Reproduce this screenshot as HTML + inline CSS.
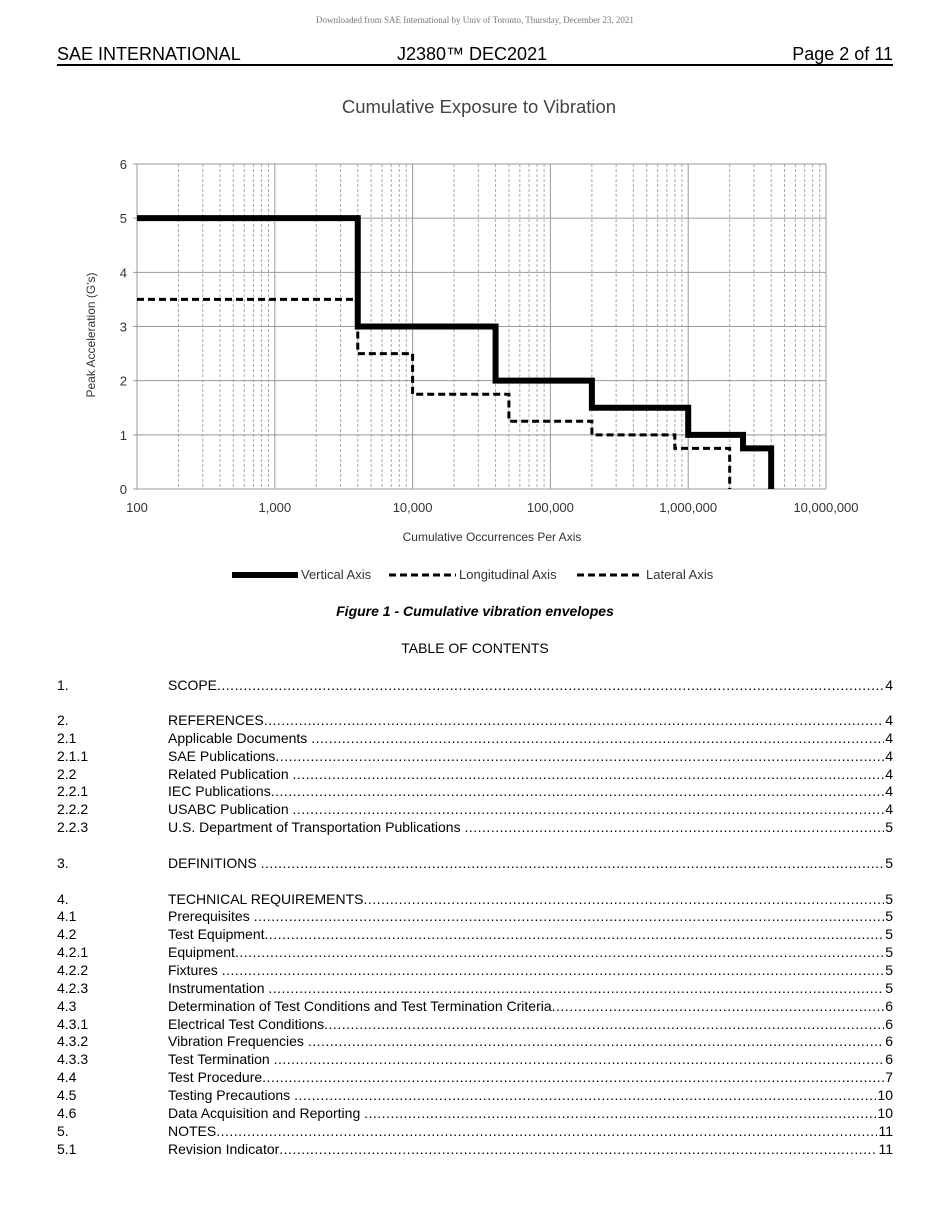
<!DOCTYPE html>
<html><head><meta charset="utf-8"><style>
body{margin:0;background:#fff;width:950px;height:1230px;position:relative;font-family:"Liberation Sans",Arial,sans-serif;overflow:hidden}
.a{position:absolute;white-space:nowrap}
.row{position:absolute;left:57px;width:836px;height:18px;font-size:14px;line-height:18px;color:#000;white-space:nowrap}
.row .n{position:absolute;left:0}
.row .t{position:absolute;left:111px;right:0;overflow:hidden;white-space:nowrap}
.row .t span.d{letter-spacing:0.5px}
.row .p{position:absolute;right:0;background:#fff;padding-left:1px}
</style></head><body>
<div class="a" style="left:0;width:950px;text-align:center;top:15px;font-family:'Liberation Serif',serif;font-size:9px;color:#777">Downloaded from SAE International by Univ of Toronto, Thursday, December 23, 2021</div>
<div class="a" style="left:57px;top:44px;font-size:18px">SAE INTERNATIONAL</div>
<div class="a" style="left:397px;top:44px;font-size:18px">J2380™ DEC2021</div>
<div class="a" style="right:57px;top:44px;font-size:18px">Page 2 of 11</div>
<div class="a" style="left:57px;top:64px;width:836px;height:1.5px;background:#000"></div>
<svg id="ch" class="a" style="left:0;top:0" width="950" height="600"></svg>
<div class="a" style="left:0;width:950px;text-align:center;top:603px;font-size:14px;font-weight:bold;font-style:italic">Figure 1 - Cumulative vibration envelopes</div>
<div class="a" style="left:0;width:950px;text-align:center;top:640px;font-size:14px">TABLE OF CONTENTS</div>
<div id="toc"></div>
<script>
var s='',L=137,R=826,T=164,B=489,D=137.8,U=(B-T)/6;
function X(v){return L+Math.log10(v/100)*D}
function Y(v){return B-v*U}
for(var d=0;d<5;d++)for(var k=2;k<10;k++){var x=X(100*Math.pow(10,d)*k);s+='<line x1="'+x+'" y1="'+T+'" x2="'+x+'" y2="'+B+'" stroke="#aaa" stroke-width="1" stroke-dasharray="3,2"/>';}
for(var d=0;d<=5;d++){var x=X(100*Math.pow(10,d));s+='<line x1="'+x+'" y1="'+T+'" x2="'+x+'" y2="'+B+'" stroke="#999" stroke-width="1"/>';}
for(var i=0;i<=6;i++){var y=Y(i);s+='<line x1="'+(L-4)+'" y1="'+y+'" x2="'+R+'" y2="'+y+'" stroke="#999" stroke-width="1"/><text x="'+(L-10)+'" y="'+(y+5)+'" font-size="13" text-anchor="end" fill="#333" font-family="Liberation Sans">'+i+'</text>';}
var xl=['100','1,000','10,000','100,000','1,000,000','10,000,000'];
for(var d=0;d<=5;d++)s+='<text x="'+X(100*Math.pow(10,d))+'" y="512" font-size="13" text-anchor="middle" fill="#333" font-family="Liberation Sans">'+xl[d]+'</text>';
function path(pts){var p='M'+X(pts[0][0])+' '+Y(pts[0][1]);for(var i=1;i<pts.length;i++){p+=' L'+X(pts[i][0])+' '+Y(pts[i-1][1])+' L'+X(pts[i][0])+' '+Y(pts[i][1]);}return p;}
var lat=[[100,3.5],[4000,2.5],[10000,1.75],[50000,1.25],[200000,1],[800000,0.75],[2000000,0]];
s+='<path d="'+path(lat)+'" fill="none" stroke="#000" stroke-width="3" stroke-dasharray="7,4"/>';
var ver=[[100,5],[4000,3],[40000,2],[200000,1.5],[1000000,1],[2500000,0.75],[4000000,0]];
s+='<path d="'+path(ver)+'" fill="none" stroke="#000" stroke-width="6"/>';
s+='<text x="479" y="113" font-size="18.5" text-anchor="middle" fill="#444" font-family="Liberation Sans">Cumulative Exposure to Vibration</text>';
s+='<text x="492" y="541" font-size="12" text-anchor="middle" fill="#333" font-family="Liberation Sans">Cumulative Occurrences Per Axis</text>';
s+='<text transform="translate(95,335) rotate(-90)" font-size="12" text-anchor="middle" fill="#333" font-family="Liberation Sans">Peak Acceleration (G\'s)</text>';
s+='<line x1="232" y1="575" x2="298" y2="575" stroke="#000" stroke-width="6"/><text x="301" y="579" font-size="13" fill="#333" font-family="Liberation Sans">Vertical Axis</text>';
s+='<line x1="389" y1="575" x2="456" y2="575" stroke="#000" stroke-width="3" stroke-dasharray="7,4"/><text x="459" y="579" font-size="13" fill="#333" font-family="Liberation Sans">Longitudinal Axis</text>';
s+='<line x1="577" y1="575" x2="643" y2="575" stroke="#000" stroke-width="3" stroke-dasharray="7,4"/><text x="646" y="579" font-size="13" fill="#333" font-family="Liberation Sans">Lateral Axis</text>';
document.getElementById('ch').innerHTML=s;
var rows=[[676,'1.','SCOPE','4'],[711,'2.','REFERENCES','4'],[729,'2.1','Applicable Documents ','4'],[747,'2.1.1','SAE Publications','4'],[765,'2.2','Related Publication ','4'],[782,'2.2.1','IEC Publications','4'],[800,'2.2.2','USABC Publication ','4'],[818,'2.2.3','U.S. Department of Transportation Publications ','5'],[854,'3.','DEFINITIONS ','5'],[890,'4.','TECHNICAL REQUIREMENTS','5'],[907,'4.1','Prerequisites ','5'],[925,'4.2','Test Equipment','5'],[943,'4.2.1','Equipment','5'],[961,'4.2.2','Fixtures ','5'],[979,'4.2.3','Instrumentation ','5'],[997,'4.3','Determination of Test Conditions and Test Termination Criteria','6'],[1015,'4.3.1','Electrical Test Conditions','6'],[1032,'4.3.2','Vibration Frequencies ','6'],[1050,'4.3.3','Test Termination ','6'],[1068,'4.4','Test Procedure','7'],[1086,'4.5','Testing Precautions ','10'],[1104,'4.6','Data Acquisition and Reporting ','10'],[1122,'5.','NOTES','11'],[1140,'5.1','Revision Indicator','11']];
var h='',dots=new Array(200).join('.');
rows.forEach(function(r){h+='<div class="row" style="top:'+r[0]+'px"><span class="n">'+r[1]+'</span><span class="t">'+r[2]+'<span class="d">'+dots+'</span></span><span class="p">'+r[3]+'</span></div>';});
document.getElementById('toc').innerHTML=h;
</script>
</body></html>
